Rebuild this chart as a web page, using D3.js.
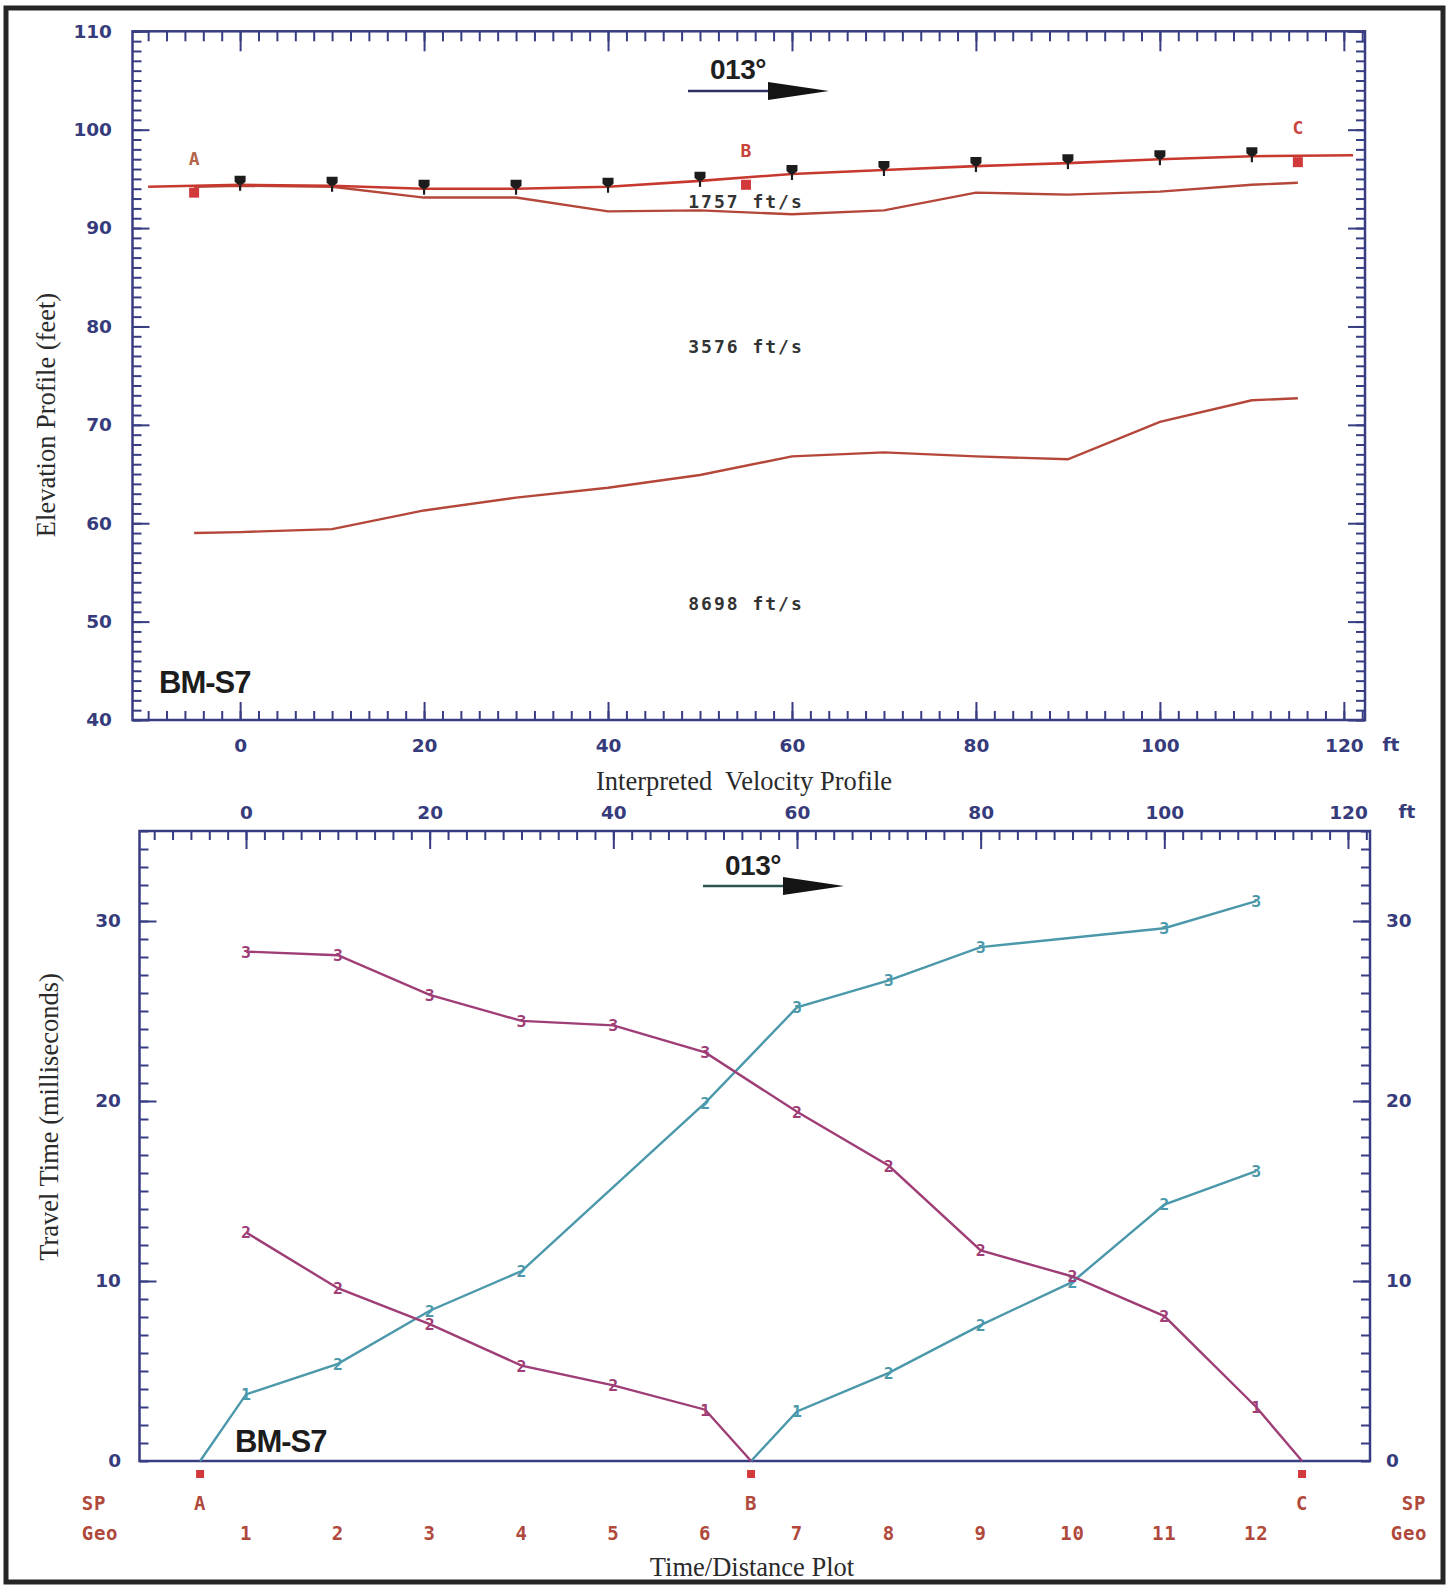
<!DOCTYPE html>
<html>
<head>
<meta charset="utf-8">
<script src="https://cdn.jsdelivr.net/npm/d3@7"></script>
<style>
  html, body { margin: 0; padding: 0; background: #fff; }
  svg { display: block; }
</style>
</head>
<body>
<svg id="chart" width="1449" height="1585"></svg>
<script>
// ---------------- survey layout ----------------
const geoNumbers = [1, 2, 3, 4, 5, 6, 7, 8, 9, 10, 11, 12];
const geoX = [0, 10, 20, 30, 40, 50, 60, 70, 80, 90, 100, 110];
const shotNames = ["A", "B", "C"];
const shotX = [-5, 55, 115];

// ---------------- velocity profile (elevations, ft) ----------------
const geoElev = [94.4, 94.3, 94.0, 94.0, 94.2, 94.8, 95.5, 95.9, 96.3, 96.6, 97.0, 97.3];
const shotElev = [93.6, 94.4, 96.7];
const surfaceX = [-10, 0, 10, 20, 30, 40, 50, 60, 70, 80, 90, 100, 110, 121];
const surfaceElev = [94.2, 94.4, 94.3, 94.0, 94.0, 94.2, 94.8, 95.5, 95.9, 96.3, 96.6, 97.0, 97.3, 97.4];
const layerX = [-5, 0, 10, 20, 30, 40, 50, 60, 70, 80, 90, 100, 110, 115];
const layer1Base = [94.2, 94.3, 94.2, 93.1, 93.1, 91.7, 91.8, 91.4, 91.8, 93.6, 93.4, 93.7, 94.4, 94.6];
const layer2Base = [59.0, 59.1, 59.4, 61.3, 62.6, 63.6, 64.9, 66.8, 67.2, 66.8, 66.5, 70.3, 72.5, 72.7];
const velocities = [1757, 3576, 8698];
const velocityLabelElev = [92.7, 77.9, 51.8];
const velocityLabelX = 55;

// ---------------- travel-time picks (ms) ----------------
const tealA_geo = [1, 2, 3, 4, 6, 7, 8, 9, 11, 12];
const tealA_time = [3.7, 5.4, 8.35, 10.55, 19.9, 25.2, 26.7, 28.55, 29.6, 31.1];
const tealA_layer = [1, 2, 2, 2, 2, 3, 3, 3, 3, 3];

const tealB_geo = [7, 8, 9, 10, 11, 12];
const tealB_time = [2.75, 4.9, 7.55, 9.95, 14.25, 16.1];
const tealB_layer = [1, 2, 2, 2, 2, 3];

const magB_geo = [6, 5, 4, 3, 2, 1];
const magB_time = [2.85, 4.2, 5.3, 7.6, 9.6, 12.7];
const magB_layer = [1, 2, 2, 2, 2, 2];

const magC_geo = [12, 11, 10, 9, 8, 7, 6, 5, 4, 3, 2, 1];
const magC_time = [3.0, 8.05, 10.25, 11.7, 16.4, 19.4, 22.7, 24.2, 24.45, 25.9, 28.1, 28.3];
const magC_layer = [1, 2, 2, 2, 2, 2, 3, 3, 3, 3, 3, 3];

// ---------------- tick values ----------------
const elevMajor = [40, 50, 60, 70, 80, 90, 100, 110];
const elevMinor = d3.range(40, 111, 1);
const distMajor = [0, 20, 40, 60, 80, 100, 120];
const distMinor = d3.range(-10, 123, 2);
const timeMajor = [0, 10, 20, 30];
const timeMinor = d3.range(0, 36, 1);

// ---------------- styling ----------------
const AXIS = "#383c82";
const AXIS_TXT = "#363b7c";
const RED = "#c7392f";
const BROWN_RED = "#b4463a";
const SHOT_RED = "#d2393a";
const LABEL_RED = "#b0493c";
const TEAL = "#4b98aa";
const MAGENTA = "#9e3d76";
const TICK_FONT = "'DejaVu Sans', sans-serif";
const SERIF = "'Liberation Serif', 'Times New Roman', serif";
const BOLD_SANS = "'Liberation Sans', Arial, sans-serif";
const MONO = "'DejaVu Sans Mono', monospace";

const svg = d3.select("#chart");

// figure border
svg.append("rect")
  .attr("x", 6).attr("y", 8).attr("width", 1437).attr("height", 1574)
  .attr("fill", "none").attr("stroke", "#262626").attr("stroke-width", 5);

// ---------------- scales ----------------
const topBox = { l: 132.5, r: 1365, t: 31.3, b: 720 };
const botBox = { l: 139.5, r: 1370, t: 831, b: 1461 };

const xTop = d3.scaleLinear().domain([-11.7, 122.3]).range([topBox.l, topBox.r]);
const yTop = d3.scaleLinear().domain([40, 110]).range([topBox.b, topBox.t]);
const xBot = d3.scaleLinear().domain([-11.6, 122.4]).range([botBox.l, botBox.r]);
const yBot = d3.scaleLinear().domain([0, 35]).range([botBox.b, botBox.t]);

// tick helper: ticks point into the plot, optional labels
function tickAxis(parent, axisFn, scale, values, len, pos, labelled, pad) {
  const ax = axisFn(scale).tickValues(values).tickSize(-len).tickSizeOuter(0).tickPadding(pad || 0);
  if (!labelled) ax.tickFormat("");
  const g = parent.append("g").attr("transform", pos).call(ax);
  g.select(".domain").remove();
  g.selectAll("line").attr("stroke", AXIS).attr("stroke-width", 2);
  g.attr("font-family", TICK_FONT).attr("font-size", 18.5);
  g.selectAll("text").attr("fill", AXIS_TXT).attr("font-weight", "bold");
  return g;
}

// ================= upper panel: interpreted velocity profile =================
const profilePanel = svg.append("g");

tickAxis(profilePanel, d3.axisLeft, yTop, elevMinor, 9, `translate(${topBox.l},0)`, false);
tickAxis(profilePanel, d3.axisLeft, yTop, elevMajor, 17, `translate(${topBox.l},0)`, true, 20.5);
tickAxis(profilePanel, d3.axisRight, yTop, elevMinor, 9, `translate(${topBox.r},0)`, false);
tickAxis(profilePanel, d3.axisRight, yTop, elevMajor, 17, `translate(${topBox.r},0)`, false);
tickAxis(profilePanel, d3.axisTop, xTop, distMinor, 10, `translate(0,${topBox.t})`, false);
tickAxis(profilePanel, d3.axisTop, xTop, distMajor, 20, `translate(0,${topBox.t})`, false);
tickAxis(profilePanel, d3.axisBottom, xTop, distMinor, 9, `translate(0,${topBox.b})`, false);
tickAxis(profilePanel, d3.axisBottom, xTop, distMajor, 18, `translate(0,${topBox.b})`, true, 18.6);

profilePanel.append("rect")
  .attr("x", topBox.l).attr("y", topBox.t)
  .attr("width", topBox.r - topBox.l).attr("height", topBox.b - topBox.t)
  .attr("fill", "none").attr("stroke", AXIS).attr("stroke-width", 2.5);

profilePanel.append("text").text("ft")
  .attr("x", 1391).attr("y", 745).attr("dy", "0.35em").attr("text-anchor", "middle")
  .attr("font-family", TICK_FONT).attr("font-size", 18.5).attr("font-weight", "bold")
  .attr("fill", AXIS_TXT);

// refractor boundaries
const lineTop = (xs, ys) => d3.line().x((d, i) => xTop(xs[i])).y(d => yTop(d))(ys);
profilePanel.append("path").attr("d", lineTop(layerX, layer2Base))
  .attr("fill", "none").attr("stroke", BROWN_RED).attr("stroke-width", 2.4);
profilePanel.append("path").attr("d", lineTop(layerX, layer1Base))
  .attr("fill", "none").attr("stroke", BROWN_RED).attr("stroke-width", 2.4);
// ground surface
profilePanel.append("path").attr("d", lineTop(surfaceX, surfaceElev))
  .attr("fill", "none").attr("stroke", RED).attr("stroke-width", 2.6);

// geophones
const geoG = profilePanel.selectAll("g.geo").data(geoX).join("g")
  .attr("class", "geo")
  .attr("transform", (d, i) => `translate(${xTop(d)},${yTop(geoElev[i])})`);
geoG.append("path").attr("d", "M-5.5,-9 H5.5 V-3 L2,0 H-2 L-5.5,-3 Z")
  .attr("fill", "#1c1c1c");
geoG.append("line").attr("x1", 0).attr("x2", 0).attr("y1", 0).attr("y2", 6)
  .attr("stroke", "#1c1c1c").attr("stroke-width", 2.2);

// shot points
profilePanel.selectAll("rect.shot").data(shotX).join("rect")
  .attr("class", "shot")
  .attr("x", (d) => xTop(d) - 5)
  .attr("y", (d, i) => yTop(shotElev[i]) - 5)
  .attr("width", 10).attr("height", 10).attr("fill", SHOT_RED);
profilePanel.selectAll("text.shotlbl").data(shotNames).join("text")
  .attr("class", "shotlbl").text(d => d)
  .attr("x", (d, i) => xTop(shotX[i]))
  .attr("y", (d, i) => yTop(shotElev[i]) - 34)
  .attr("dy", "0.35em").attr("text-anchor", "middle")
  .attr("font-family", MONO).attr("font-size", 18).attr("font-weight", "bold")
  .attr("fill", (d, i) => i === 0 ? "#b5654a" : "#c8443a");

// layer velocities
profilePanel.selectAll("text.vel").data(velocities).join("text")
  .attr("class", "vel").text(d => `${d} ft/s`)
  .attr("x", xTop(velocityLabelX))
  .attr("y", (d, i) => yTop(velocityLabelElev[i]))
  .attr("dy", "0.35em").attr("text-anchor", "middle")
  .attr("font-family", MONO).attr("font-size", 18).attr("font-weight", "bold")
  .attr("letter-spacing", 2).attr("fill", "#333");

// bearing arrow
function bearing(g, cx, ty, ay, lineColor) {
  g.append("text").text("013°")
    .attr("x", cx).attr("y", ty).attr("dy", "0.35em").attr("text-anchor", "middle")
    .attr("font-family", BOLD_SANS).attr("font-size", 28).attr("font-weight", "bold")
    .attr("letter-spacing", -0.5).attr("fill", "#1f1f1f");
  g.append("line").attr("x1", cx - 50).attr("x2", cx + 32).attr("y1", ay).attr("y2", ay)
    .attr("stroke", lineColor).attr("stroke-width", 2.5);
  g.append("path")
    .attr("d", `M${cx + 30},${ay - 9} L${cx + 91},${ay} L${cx + 30},${ay + 9} Z`)
    .attr("fill", "#141414");
}
bearing(profilePanel, 738, 69, 91, "#2d3060");

profilePanel.append("text").text("BM-S7")
  .attr("x", 159).attr("y", 693)
  .attr("font-family", BOLD_SANS).attr("font-size", 31).attr("font-weight", "bold")
  .attr("letter-spacing", -1).attr("fill", "#1c1c1c");

// axis titles
svg.append("text").text("Elevation Profile (feet)")
  .attr("transform", "translate(46,415) rotate(-90)")
  .attr("dy", "0.35em").attr("text-anchor", "middle")
  .attr("font-family", SERIF).attr("font-size", 26.5).attr("fill", "#2a2a2a");
svg.append("text").text("Interpreted\u00a0 Velocity Profile")
  .attr("x", 744).attr("y", 781).attr("dy", "0.35em").attr("text-anchor", "middle")
  .attr("font-family", SERIF).attr("font-size", 26.5).attr("fill", "#2a2a2a");

// ================= lower panel: time / distance plot =================
const timePanel = svg.append("g");

tickAxis(timePanel, d3.axisLeft, yBot, timeMinor, 9, `translate(${botBox.l},0)`, false);
tickAxis(timePanel, d3.axisLeft, yBot, timeMajor.filter(v => v > 0), 17, `translate(${botBox.l},0)`, false);
tickAxis(timePanel, d3.axisLeft, yBot, timeMajor, 0, `translate(${botBox.l},0)`, true, 18.5);
tickAxis(timePanel, d3.axisRight, yBot, timeMinor, 9, `translate(${botBox.r},0)`, false);
tickAxis(timePanel, d3.axisRight, yBot, timeMajor.filter(v => v > 0), 17, `translate(${botBox.r},0)`, false);
tickAxis(timePanel, d3.axisRight, yBot, timeMajor, 0, `translate(${botBox.r},0)`, true, 16);
tickAxis(timePanel, d3.axisTop, xBot, distMinor, 9, `translate(0,${botBox.t})`, false);
tickAxis(timePanel, d3.axisTop, xBot, distMajor, 18, `translate(0,${botBox.t})`, true, 12.3);

timePanel.append("rect")
  .attr("x", botBox.l).attr("y", botBox.t)
  .attr("width", botBox.r - botBox.l).attr("height", botBox.b - botBox.t)
  .attr("fill", "none").attr("stroke", AXIS).attr("stroke-width", 2.5);

timePanel.append("text").text("ft")
  .attr("x", 1407).attr("y", 812).attr("dy", "0.35em").attr("text-anchor", "middle")
  .attr("font-family", TICK_FONT).attr("font-size", 18.5).attr("font-weight", "bold")
  .attr("fill", AXIS_TXT);

// travel-time branches, each starting at its shot point (t = 0)
function branch(shotIdx, geos, times, layers, color) {
  const pts = [{ x: shotX[shotIdx], t: 0, lay: null }]
    .concat(geos.map((g, i) => ({ x: geoX[g - 1], t: times[i], lay: layers[i] })));
  timePanel.append("path")
    .attr("d", d3.line().x(d => xBot(d.x)).y(d => yBot(d.t))(pts))
    .attr("fill", "none").attr("stroke", color).attr("stroke-width", 2.4);
  timePanel.append("g").selectAll("text").data(pts.filter(d => d.lay !== null)).join("text")
    .text(d => d.lay)
    .attr("x", d => xBot(d.x)).attr("y", d => yBot(d.t))
    .attr("dy", "0.36em").attr("text-anchor", "middle")
    .attr("font-family", MONO).attr("font-size", 16.5).attr("font-weight", "bold")
    .attr("fill", color);
}
branch(0, tealA_geo, tealA_time, tealA_layer, TEAL);
branch(1, tealB_geo, tealB_time, tealB_layer, TEAL);
branch(1, magB_geo, magB_time, magB_layer, MAGENTA);
branch(2, magC_geo, magC_time, magC_layer, MAGENTA);

bearing(timePanel, 753, 865, 886, "#2c5450");

timePanel.append("text").text("BM-S7")
  .attr("x", 235).attr("y", 1452)
  .attr("font-family", BOLD_SANS).attr("font-size", 31).attr("font-weight", "bold")
  .attr("letter-spacing", -1).attr("fill", "#1c1c1c");

// shot / geophone rows beneath the plot
timePanel.selectAll("rect.sp").data(shotX).join("rect")
  .attr("class", "sp")
  .attr("x", d => xBot(d) - 4).attr("y", 1470).attr("width", 8).attr("height", 8)
  .attr("fill", SHOT_RED);

const rowText = (txt, x, y) => timePanel.append("text").text(txt)
  .attr("x", x).attr("y", y).attr("dy", "0.35em").attr("text-anchor", "middle")
  .attr("font-family", MONO).attr("font-size", 19).attr("font-weight", "bold")
  .attr("letter-spacing", 0.8).attr("fill", LABEL_RED);

shotNames.forEach((s, i) => rowText(s, xBot(shotX[i]), 1503));
geoNumbers.forEach((n, i) => rowText(n, xBot(geoX[i]), 1533));
rowText("SP", 94, 1503);
rowText("Geo", 100, 1533);
rowText("SP", 1414, 1503);
rowText("Geo", 1409, 1533);

svg.append("text").text("Travel Time (milliseconds)")
  .attr("transform", "translate(49,1117) rotate(-90)")
  .attr("dy", "0.35em").attr("text-anchor", "middle")
  .attr("font-family", SERIF).attr("font-size", 26.5).attr("fill", "#2a2a2a");
svg.append("text").text("Time/Distance Plot")
  .attr("x", 752).attr("y", 1567).attr("dy", "0.35em").attr("text-anchor", "middle")
  .attr("font-family", SERIF).attr("font-size", 26.5).attr("fill", "#2a2a2a");
</script>
</body>
</html>
